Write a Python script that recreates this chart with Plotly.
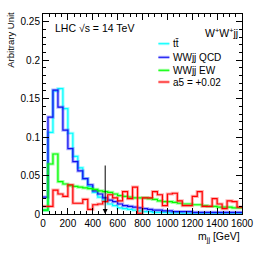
import numpy as np
import plotly.graph_objects as go

# ---- data (40 GeV bins, 0-1600 GeV) ----
bin_edges = list(range(0, 1601, 40))

ttbar = [0.005, 0.106, 0.160, 0.163, 0.137, 0.105, 0.075, 0.060, 0.046, 0.036,
         0.028, 0.022, 0.018, 0.013, 0.011, 0.008, 0.007, 0.006, 0.005, 0.004,
         0.003, 0.003, 0.002, 0.002, 0.002, 0.0015, 0.0015, 0.0015, 0.001, 0.001,
         0.001, 0.001, 0.001, 0.001, 0.001, 0.001, 0.001, 0.001, 0.001, 0.001]

wwjj_qcd = [0.022, 0.126, 0.161, 0.139, 0.109, 0.085, 0.068, 0.056, 0.046, 0.038,
            0.030, 0.026, 0.021, 0.018, 0.016, 0.013, 0.011, 0.010, 0.009, 0.008,
            0.007, 0.006, 0.005, 0.005, 0.004, 0.004, 0.003, 0.003, 0.003, 0.003,
            0.002, 0.002, 0.002, 0.002, 0.002, 0.002, 0.002, 0.002, 0.002, 0.002]

wwjj_ew = [0.005, 0.065, 0.078, 0.042, 0.039, 0.037, 0.036, 0.035, 0.034, 0.033,
           0.032, 0.030, 0.029, 0.028, 0.026, 0.024, 0.023, 0.022, 0.021, 0.021,
           0.021, 0.020, 0.019, 0.017, 0.016, 0.016, 0.015, 0.014, 0.013, 0.013,
           0.012, 0.012, 0.011, 0.010, 0.010, 0.009, 0.009, 0.009, 0.008, 0.008]

a5 = [0.010, 0.010, 0.031, 0.026, 0.023, 0.038, 0.014, 0.014, 0.019, 0.006,
      0.012, 0.013, 0.016, 0.025, 0.021, 0.017, 0.029, 0.020, 0.035, 0.001,
      0.021, 0.021, 0.029, 0.025, 0.011, 0.026, 0.027, 0.017, 0.011, 0.011,
      0.023, 0.029, 0.010, 0.010, 0.020, 0.013, 0.007, 0.017, 0.016, 0.009]

series_labels = ["t" + "t\u0304", "WWjj QCD", "WWjj EW", "a5 = +0.02"]
series_values = [ttbar, wwjj_qcd, wwjj_ew, a5]
series_colors = ["#00ffff", "#1010f0", "#00ff00", "#ff0000"]
halo_colors = ["rgba(0,255,255,0.35)", "rgba(60,60,255,0.40)",
               "rgba(0,255,0,0.35)", "rgba(255,60,60,0.40)"]

cut_value = 500
arrow_top = 0.065

x_ticks = [0, 200, 400, 600, 800, 1000, 1200, 1400, 1600]
y_ticks = [0, 0.05, 0.1, 0.15, 0.2, 0.25]
y_tick_text = ["0", "0.05", "0.1", "0.15", "0.2", "0.25"]

FONT = "Liberation Sans, Arial, Helvetica, sans-serif"

fig = go.Figure()
for vals, col, halo in zip(series_values, series_colors, halo_colors):
    ys = list(vals) + [vals[-1]]
    fig.add_trace(go.Scatter(x=bin_edges, y=ys, mode="lines", line_shape="hv",
                             line=dict(color=halo, width=3.2), hoverinfo="skip",
                             showlegend=False))
    fig.add_trace(go.Scatter(x=bin_edges, y=ys, mode="lines", line_shape="hv",
                             line=dict(color=col, width=1.2), showlegend=False))

fig.update_layout(
    width=266, height=255,
    margin=dict(l=43, r=13, t=14, b=41),
    paper_bgcolor="white", plot_bgcolor="white",
    font=dict(family=FONT, size=10, color="black"),
    showlegend=False,
)
fig.update_xaxes(range=[0, 1600], tickvals=x_ticks, ticks="inside", ticklen=6,
                 tickcolor="black", showline=True, linecolor="black", linewidth=1,
                 mirror="ticks", showgrid=False, zeroline=False,
                 tickfont=dict(size=10),
                 minor=dict(ticks="inside", dtick=50, ticklen=3, tickcolor="black",
                            showgrid=False))
fig.update_yaxes(range=[0, 0.26], tickvals=y_ticks, ticktext=y_tick_text,
                 ticks="inside", ticklen=6, tickcolor="black", showline=True,
                 linecolor="black", linewidth=1, mirror="ticks", showgrid=False,
                 zeroline=False, tickfont=dict(size=10),
                 minor=dict(ticks="inside", dtick=0.01, ticklen=3, tickcolor="black",
                            showgrid=False))

# cut arrow
fig.add_annotation(x=cut_value, y=0, ax=cut_value, ay=arrow_top, xref="x", yref="y",
                   axref="x", ayref="y", showarrow=True, arrowhead=2, arrowsize=1,
                   arrowwidth=1, arrowcolor="black", text="")

# texts
fig.add_annotation(x=0.052, y=0.93, xref="paper", yref="paper", xanchor="left",
                   yanchor="middle", showarrow=False, text="LHC \u221as = 14 TeV",
                   font=dict(size=10.5))
fig.add_annotation(x=0.99, y=0.905, xref="paper", yref="paper", xanchor="right",
                   yanchor="middle", showarrow=False,
                   text="W<sup>+</sup>W<sup>+</sup>jj", font=dict(size=10.5))
fig.add_annotation(x=1.0, y=-0.115, xref="paper", yref="paper", xanchor="right",
                   yanchor="middle", showarrow=False,
                   text="m<sub>jj</sub> [GeV]", font=dict(size=10.5))
fig.add_annotation(x=-0.167, y=1.02, xref="paper", yref="paper", xanchor="center",
                   yanchor="top", showarrow=False, textangle=-90,
                   text="Arbitrary Unit", font=dict(size=9.5))

# legend (manual, ROOT style)
leg_y = [0.8515, 0.7835, 0.7185, 0.66]
for lab, col, halo, yy in zip(series_labels, series_colors, halo_colors, leg_y):
    fig.add_shape(type="line", xref="paper", yref="paper", x0=0.58, x1=0.635,
                  y0=yy, y1=yy, line=dict(color=halo, width=3))
    fig.add_shape(type="line", xref="paper", yref="paper", x0=0.58, x1=0.635,
                  y0=yy, y1=yy, line=dict(color=col, width=1))
    fig.add_annotation(x=0.643, y=yy, xref="paper", yref="paper", xanchor="left",
                       yanchor="middle", showarrow=False, text=lab,
                       font=dict(size=10))

fig.write_html("out.html", config={"displayModeBar": False},
               post_script="document.body.style.margin='0';")
